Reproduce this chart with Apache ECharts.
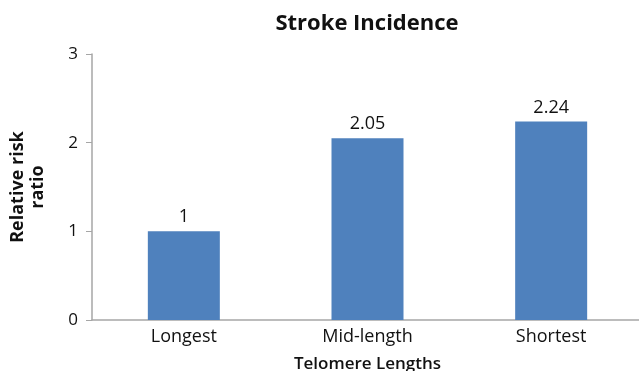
<!DOCTYPE html>
<html>
<head>
<meta charset="utf-8">
<script src="https://cdn.jsdelivr.net/npm/echarts@6/dist/echarts.min.js"></script>
<style>
  html, body { margin: 0; padding: 0; background: #fff; }
  #chart { width: 639px; height: 371px; }
</style>
</head>
<body>
<div id="chart"></div>
<script>
// Stroke incidence by telomere length group
const categories = ['Longest', 'Mid-length', 'Shortest'];
const riskRatio = [1, 2.05, 2.24];
const yTicks = [0, 1, 2, 3];

const font = '"Open Sans", "Liberation Sans", sans-serif';
const chart = echarts.init(document.getElementById('chart'));

chart.setOption({
  animation: false,
  backgroundColor: '#ffffff',
  title: {
    text: 'Stroke Incidence',
    left: 362,
    top: 8,
    textAlign: 'center',
    textStyle: { fontFamily: font, fontSize: 22, fontWeight: 'bold', color: '#111' }
  },
  // plot area runs slightly past the right edge of the canvas
  grid: { left: 92, top: 54, width: 551, bottom: 51, outerBoundsMode: 'none', containLabel: false },
  xAxis: {
    type: 'category',
    data: categories,
    name: 'Telomere Lengths',
    nameLocation: 'middle',
    nameGap: 36,
    nameTextStyle: { fontFamily: font, fontSize: 17, fontWeight: 600, color: '#111' },
    axisLine: { lineStyle: { color: '#a6a6a6', width: 1.5 } },
    axisTick: { show: false },
    axisLabel: { fontFamily: font, fontSize: 18, color: '#111', margin: 8 }
  },
  yAxis: {
    type: 'value',
    min: yTicks[0],
    max: yTicks[yTicks.length - 1],
    interval: 1,
    name: 'Relative risk\nratio',
    nameLocation: 'middle',
    nameGap: 44,
    nameRotate: 90,
    nameTextStyle: { fontFamily: font, fontSize: 18, fontWeight: 'bold', color: '#111', lineHeight: 20 },
    axisLine: { show: true, lineStyle: { color: '#a6a6a6', width: 1.5 } },
    axisTick: { show: true, length: 6, lineStyle: { color: '#a6a6a6' } },
    axisLabel: { fontFamily: font, fontSize: 17, color: '#111', margin: 14 },
    splitLine: { show: false }
  },
  series: [{
    type: 'bar',
    data: riskRatio,
    barWidth: 72,
    itemStyle: { color: '#4f81bd' },
    label: {
      show: true,
      position: 'top',
      distance: 5,
      fontFamily: font,
      fontSize: 18,
      color: '#111'
    }
  }]
});
</script>
</body>
</html>
